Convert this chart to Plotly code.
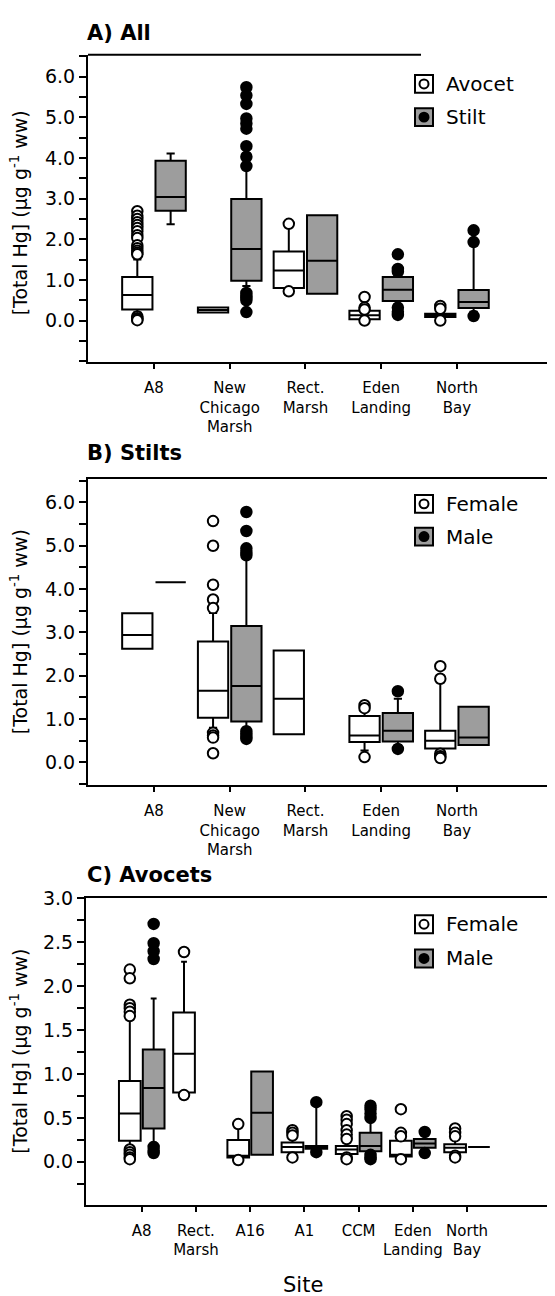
import plotly.graph_objects as go

# ---------------- DATA ----------------
# Panel A: All (Avocet vs Stilt)
sites_A = ["A8", "New<br>Chicago<br>Marsh", "Rect.<br>Marsh", "Eden<br>Landing", "North<br>Bay"]
avocet_q1 = [0.27, 0.20, 0.80, 0.03, 0.09]
avocet_med = [0.63, 0.26, 1.23, 0.13, 0.13]
avocet_q3 = [1.07, 0.32, 1.70, 0.24, 0.17]
avocet_lo = [0.20, 0.20, 0.80, 0.03, 0.09]
avocet_hi = [1.50, 0.32, 2.38, 0.28, 0.17]
avocet_out = [
    [2.69, 2.58, 2.50, 2.42, 2.35, 2.28, 2.20, 2.10, 2.03, 1.85, 1.78, 1.72, 1.67, 1.63, 0.10, 0.06, 0.03, 0.01],
    [],
    [2.38, 0.72],
    [0.58, 0.32, 0.27, 0.00],
    [0.36, 0.29, 0.00],
]
stilt_q1 = [2.70, 0.98, 0.66, 0.48, 0.31]
stilt_med = [3.04, 1.76, 1.47, 0.76, 0.46]
stilt_q3 = [3.93, 2.99, 2.59, 1.07, 0.75]
stilt_lo = [2.37, 0.85, 0.66, 0.40, 0.22]
stilt_hi = [4.11, 3.75, 2.59, 1.15, 1.85]
stilt_out = [
    [],
    [5.74, 5.54, 5.33, 4.97, 4.85, 4.72, 4.29, 4.03, 3.80, 0.68, 0.62, 0.56, 0.50, 0.21],
    [],
    [1.63, 1.27, 1.20, 0.32, 0.22, 0.14],
    [2.22, 1.93, 0.11],
]

# Panel B: Stilts (Female vs Male)
sites_B = ["A8", "New<br>Chicago<br>Marsh", "Rect.<br>Marsh", "Eden<br>Landing", "North<br>Bay"]
stiltF_q1 = [2.62, 1.03, 0.65, 0.47, 0.32]
stiltF_med = [2.94, 1.65, 1.47, 0.62, 0.50]
stiltF_q3 = [3.44, 2.79, 2.58, 1.07, 0.73]
stiltF_lo = [2.62, 0.80, 0.65, 0.27, 0.25]
stiltF_hi = [3.44, 3.45, 2.58, 1.20, 1.85]
stiltF_out = [
    [],
    [5.57, 5.00, 4.10, 3.76, 3.56, 0.68, 0.62, 0.57, 0.21],
    [],
    [1.32, 1.25, 0.12],
    [2.22, 1.93, 0.20, 0.14, 0.10],
]
stiltM_q1 = [4.16, 0.94, None, 0.48, 0.40]
stiltM_med = [4.16, 1.76, None, 0.73, 0.57]
stiltM_q3 = [4.16, 3.15, None, 1.14, 1.28]
stiltM_lo = [4.16, 0.80, None, 0.40, 0.40]
stiltM_hi = [4.16, 4.75, None, 1.47, 1.28]
stiltM_out = [
    [],
    [5.78, 5.34, 4.94, 4.85, 4.78, 0.72, 0.66, 0.60, 0.54],
    [],
    [1.64, 0.31],
    [],
]

# Panel C: Avocets (Female vs Male)
sites_C = ["A8", "Rect.<br>Marsh", "A16", "A1", "CCM", "Eden<br>Landing", "North<br>Bay"]
avoF_q1 = [0.24, 0.79, 0.05, 0.11, 0.09, 0.06, 0.11]
avoF_med = [0.55, 1.23, 0.07, 0.17, 0.14, 0.08, 0.16]
avoF_q3 = [0.92, 1.70, 0.25, 0.22, 0.18, 0.24, 0.20]
avoF_lo = [0.18, 0.79, 0.05, 0.08, 0.07, 0.05, 0.08]
avoF_hi = [1.62, 2.28, 0.43, 0.26, 0.22, 0.28, 0.25]
avoF_out = [
    [2.19, 2.09, 1.79, 1.75, 1.71, 1.66, 0.14, 0.11, 0.08, 0.05, 0.03],
    [2.39, 0.76],
    [0.43, 0.02],
    [0.36, 0.33, 0.30, 0.05],
    [0.52, 0.48, 0.43, 0.36, 0.31, 0.26, 0.05, 0.03],
    [0.60, 0.33, 0.29, 0.03],
    [0.38, 0.33, 0.29, 0.07, 0.05],
]
avoM_q1 = [0.38, None, 0.08, 0.15, 0.12, 0.16, 0.17]
avoM_med = [0.84, None, 0.56, 0.17, 0.18, 0.21, 0.17]
avoM_q3 = [1.28, None, 1.03, 0.18, 0.33, 0.26, 0.17]
avoM_lo = [0.22, None, 0.08, 0.15, 0.10, 0.16, 0.17]
avoM_hi = [1.86, None, 1.03, 0.68, 0.45, 0.26, 0.17]
avoM_out = [
    [2.71, 2.49, 2.40, 2.31, 0.17, 0.13, 0.10],
    [],
    [],
    [0.68, 0.11],
    [0.64, 0.60, 0.55, 0.50, 0.08, 0.05, 0.03],
    [0.34, 0.10],
    [],
]

# ---------------- STYLE ----------------
W, H = 555, 1296
PAGE_MARGIN = 8  # default body margin of the html page
FONT = "DejaVu Sans"
GRAY = "#9d9d9d"
OFF = 0.22
BOXW = 0.40

fig = go.Figure()


def add_group(xa, ya, q1, med, q3, lo, hi, outs, offset, fill, mfill):
    idx = [i for i, v in enumerate(q1) if v is not None]
    fig.add_trace(go.Box(
        x=[i + offset for i in idx],
        q1=[q1[i] for i in idx], median=[med[i] for i in idx], q3=[q3[i] for i in idx],
        lowerfence=[lo[i] for i in idx], upperfence=[hi[i] for i in idx],
        width=BOXW, whiskerwidth=0.27, fillcolor=fill,
        line=dict(color="black", width=2), boxpoints=False,
        xaxis=xa, yaxis=ya, showlegend=False, hoverinfo="skip",
    ))
    ox, oy = [], []
    for i, vals in enumerate(outs):
        for v in vals:
            ox.append(i + offset)
            oy.append(v)
    fig.add_trace(go.Scatter(
        x=ox, y=oy, mode="markers", xaxis=xa, yaxis=ya, showlegend=False,
        marker=dict(size=10.5, color=mfill, line=dict(color="black", width=2)),
        hoverinfo="skip", cliponaxis=False,
    ))


add_group("x", "y", avocet_q1, avocet_med, avocet_q3, avocet_lo, avocet_hi, avocet_out, -OFF, "white", "white")
add_group("x", "y", stilt_q1, stilt_med, stilt_q3, stilt_lo, stilt_hi, stilt_out, OFF, GRAY, "black")
add_group("x2", "y2", stiltF_q1, stiltF_med, stiltF_q3, stiltF_lo, stiltF_hi, stiltF_out, -OFF, "white", "white")
add_group("x2", "y2", stiltM_q1, stiltM_med, stiltM_q3, stiltM_lo, stiltM_hi, stiltM_out, OFF, GRAY, "black")
add_group("x3", "y3", avoF_q1, avoF_med, avoF_q3, avoF_lo, avoF_hi, avoF_out, -OFF, "white", "white")
add_group("x3", "y3", avoM_q1, avoM_med, avoM_q3, avoM_lo, avoM_hi, avoM_out, OFF, GRAY, "black")


def py(pix):
    return (H - (pix - PAGE_MARGIN)) / H


def px(pix):
    return (pix - PAGE_MARGIN) / W


def xaxis(domain_left, rng, labels, anchor, mirror):
    return dict(
        domain=[domain_left, 1.0], range=rng, anchor=anchor,
        tickmode="array", tickvals=list(range(len(labels))), ticktext=labels,
        ticks="outside", ticklen=5, tickwidth=2, tickcolor="black",
        showline=True, linewidth=2, linecolor="black", mirror=mirror,
        showgrid=False, zeroline=False, ticklabelstandoff=6,
        tickfont=dict(family=FONT, size=15, color="black"),
    )


def yaxis(dom, rng, tickvals, minor_dt, anchor):
    return dict(
        domain=dom, range=rng, anchor=anchor,
        tickmode="array", tickvals=tickvals, ticktext=[f"{v:.1f}" for v in tickvals],
        ticks="outside", ticklen=7, tickwidth=2, tickcolor="black",
        minor=dict(dtick=minor_dt, tick0=0, ticks="outside", ticklen=7, tickwidth=2, tickcolor="black", showgrid=False),
        showline=True, linewidth=2, linecolor="black", mirror=False,
        showgrid=False, zeroline=False,
        tickfont=dict(family=FONT, size=19, color="black"),
    )


domA = [py(354), py(44)]
domB = [py(781), py(472)]
domC = [py(1204), py(895)]

fig.update_layout(
    width=W, height=H, margin=dict(l=0, r=0, t=0, b=0),
    paper_bgcolor="white", plot_bgcolor="white", showlegend=False,
    xaxis=xaxis(px(88), [-0.871, 5.4], sites_A, "y", False),
    yaxis=yaxis(domA, [-1.02, 6.54], [0, 1, 2, 3, 4, 5, 6], 0.5, "x"),
    xaxis2=xaxis(px(88), [-0.871, 5.4], sites_B, "y2", True),
    yaxis2=yaxis(domB, [-0.534, 6.54], [0, 1, 2, 3, 4, 5, 6], 0.5, "x2"),
    xaxis3=xaxis(px(86), [-1.028, 7.77], sites_C, "y3", True),
    yaxis3=yaxis(domC, [-0.49, 3.0], [0, 0.5, 1, 1.5, 2, 2.5, 3], 0.25, "x3"),
)

shapes = []
annotations = []

# partial top border of panel A
shapes.append(dict(type="line", xref="paper", yref="paper", x0=px(88), x1=px(421), y0=py(44), y1=py(44),
                   line=dict(color="black", width=2)))

# titles
for txt, ycen in [("A) All", 22), ("B) Stilts", 446), ("C) Avocets", 871)]:
    annotations.append(dict(text=f"<b>{txt}</b>", x=px(85), y=py(ycen), xref="paper", yref="paper",
                            xanchor="left", yanchor="middle", showarrow=False,
                            font=dict(family=FONT, size=21, color="black")))

# y axis titles
ytitle = "[Total Hg] (µg g<sup>-1</sup> ww)"
for yc in [(44 + 354) / 2 + 5, (472 + 781) / 2, (895 + 1204) / 2]:
    annotations.append(dict(text=ytitle, x=px(19), y=py(yc), xref="paper", yref="paper",
                            xanchor="center", yanchor="middle", textangle=-90, showarrow=False,
                            font=dict(family=FONT, size=19, color="black")))

# x title
annotations.append(dict(text="Site", x=px(303), y=py(1285), xref="paper", yref="paper",
                        xanchor="center", yanchor="middle", showarrow=False,
                        font=dict(family=FONT, size=21, color="black")))

# legends
legends = [
    (("Avocet", "Stilt"), (73.5, 107)),
    (("Female", "Male"), (497, 530)),
    (("Female", "Male"), (921, 955.5)),
]
for names, ys in legends:
    for name, yc, fill, mfill in zip(names, ys, ("white", GRAY), ("white", "black")):
        shapes.append(dict(type="rect", xref="paper", yref="paper",
                           x0=px(415), x1=px(433), y0=py(yc + 9), y1=py(yc - 9),
                           fillcolor=fill, line=dict(color="black", width=2)))
        shapes.append(dict(type="circle", xref="paper", yref="paper",
                           x0=px(424 - 4.5), x1=px(424 + 4.5), y0=py(yc + 4.5), y1=py(yc - 4.5),
                           fillcolor=mfill, line=dict(color="black", width=2)))
        annotations.append(dict(text=name, x=px(444), y=py(yc), xref="paper", yref="paper",
                                xanchor="left", yanchor="middle", showarrow=False,
                                font=dict(family=FONT, size=20, color="black")))

fig.update_layout(shapes=shapes, annotations=annotations)
fig.write_html("out.html")
